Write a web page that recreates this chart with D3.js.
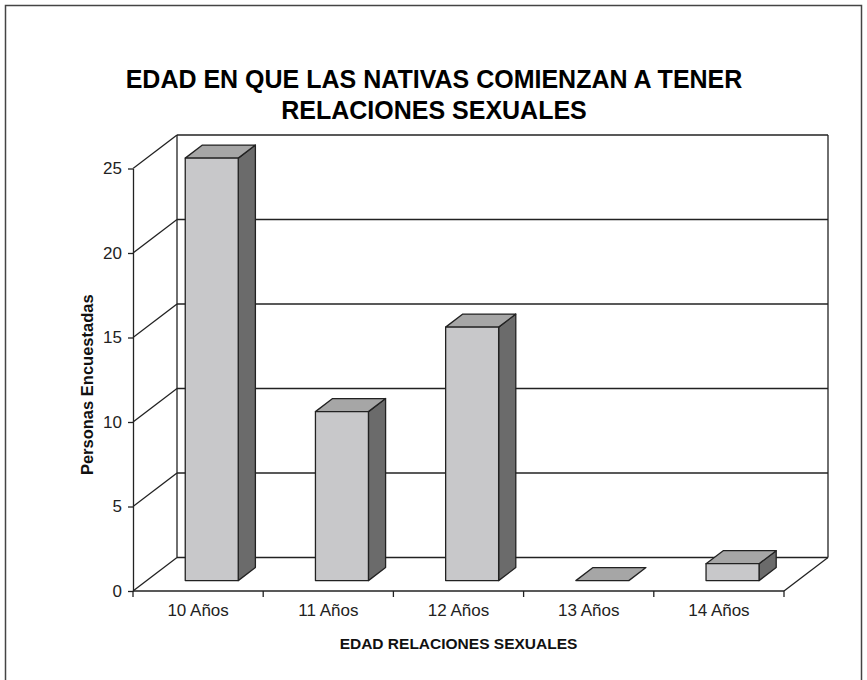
<!DOCTYPE html>
<html>
<head>
<meta charset="utf-8">
<script src="https://cdn.jsdelivr.net/npm/d3@7"></script>
<style>
  body { margin: 0; background: #fff; }
  svg { display: block; font-family: Arial, "Liberation Sans", sans-serif; }
</style>
</head>
<body>
<div id="chart"></div>
<script>
const titleLines = ["EDAD EN QUE LAS NATIVAS COMIENZAN A TENER", "RELACIONES SEXUALES"];
const categories = ["10 Años", "11 Años", "12 Años", "13 Años", "14 Años"];
const values = [25, 10, 15, 0, 1];
const yTicks = [0, 5, 10, 15, 20, 25];

const width = 867, height = 680;
// 3D depth offset of the back wall
const DX = 44, DY = -33.5;
// bar depth (fraction of wall depth)
const f0 = 0.31, f1 = 0.70;
const font = "Arial, 'Liberation Sans', sans-serif";

const svg = d3.select("#chart").append("svg")
  .attr("width", width).attr("height", height);

// outer frame
svg.append("rect")
  .attr("x", 5.5).attr("y", 5.5)
  .attr("width", 856).attr("height", 700)
  .attr("fill", "none").attr("stroke", "#444").attr("stroke-width", 1.5);

const title = svg.append("text")
  .attr("text-anchor", "middle")
  .attr("font-size", 25).attr("font-weight", "bold").attr("fill", "#000");
titleLines.forEach((t, i) => {
  title.append("tspan").attr("x", 434).attr("y", 88 + i * 31).text(t);
});

const x = d3.scaleBand().domain(categories).range([133, 784]);
const y = d3.scaleLinear().domain([0, 25]).range([591, 168.5]);

const x0 = x.range()[0], x1 = x.range()[1];
const line = (a, b, c, d) => svg.append("line")
  .attr("x1", a).attr("y1", b).attr("x2", c).attr("y2", d)
  .attr("stroke", "#222").attr("stroke-width", 1.3);

// back wall gridlines + left wall diagonals
yTicks.forEach((v) => {
  line(x0 + DX, y(v) + DY, x1 + DX, y(v) + DY);
  line(x0, y(v), x0 + DX, y(v) + DY);
});
line(x0 + DX, y(25) + DY, x0 + DX, y(0) + DY);
line(x1 + DX, y(25) + DY, x1 + DX, y(0) + DY);
// floor right edge
line(x1, y(0), x1 + DX, y(0) + DY);

// bars
const data = categories.map((c, i) => ({ cat: c, value: values[i] }));
const barW = x.bandwidth() * 0.407;
const bars = svg.append("g").selectAll("g").data(data).join("g");
const fx = (d) => x(d.cat) + (x.bandwidth() - barW) / 2 + f0 * DX;
const ddx = (f1 - f0) * DX, ddy = (f1 - f0) * DY;
const stroke = (s) => s.attr("stroke", "#222").attr("stroke-width", 1.3).attr("stroke-linejoin", "round");

bars.filter((d) => d.value > 0).append("path")
  .attr("d", (d) => {
    const l = fx(d), r = l + barW, t = y(d.value) + f0 * DY, b = y(0) + f0 * DY;
    return `M${r},${t}L${r + ddx},${t + ddy}L${r + ddx},${b + ddy}L${r},${b}Z`;
  })
  .attr("fill", "#6b6b6b").call(stroke);
bars.append("path")
  .attr("d", (d) => {
    const l = fx(d), r = l + barW, t = y(d.value) + f0 * DY;
    return `M${l},${t}L${l + ddx},${t + ddy}L${r + ddx},${t + ddy}L${r},${t}Z`;
  })
  .attr("fill", "#a6a6a6").call(stroke);
bars.filter((d) => d.value > 0).append("rect")
  .attr("x", (d) => fx(d))
  .attr("y", (d) => y(d.value) + f0 * DY)
  .attr("width", barW)
  .attr("height", (d) => y(0) - y(d.value))
  .attr("fill", "#c8c8ca").call(stroke);

// y axis
const yAxis = svg.append("g")
  .attr("transform", `translate(${x0},0)`)
  .call(d3.axisLeft(y).tickValues(yTicks).tickSize(5).tickSizeOuter(0).tickPadding(6));
yAxis.selectAll("path, line").attr("stroke", "#222").attr("stroke-width", 1.3);
yAxis.selectAll("text").attr("font-size", 17).attr("font-family", font).attr("fill", "#222");

// x axis: ticks on band edges, labels on centers
line(x0, y(0), x1, y(0));
const edges = categories.map((c) => x(c)).concat([x1]);
edges.forEach((e) => line(e, y(0), e, y(0) + 6));
const xAxis = svg.append("g")
  .attr("transform", `translate(0,${y(0)})`)
  .call(d3.axisBottom(x).tickSize(0).tickPadding(13));
xAxis.select(".domain").remove();
xAxis.selectAll("text").attr("font-size", 17).attr("font-family", font).attr("fill", "#222");

// axis titles
svg.append("text")
  .attr("x", (x0 + x1) / 2).attr("y", 649)
  .attr("text-anchor", "middle")
  .attr("font-size", 15.5).attr("font-weight", "bold").attr("fill", "#111")
  .text("EDAD RELACIONES SEXUALES");
svg.append("text")
  .attr("transform", `translate(93,${(y(0) + y(25)) / 2 + 5}) rotate(-90)`)
  .attr("text-anchor", "middle")
  .attr("font-size", 16.5).attr("font-weight", "bold").attr("fill", "#111")
  .text("Personas Encuestadas");
</script>
</body>
</html>
